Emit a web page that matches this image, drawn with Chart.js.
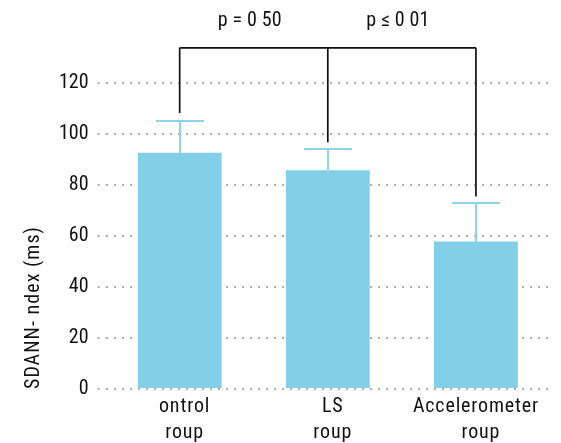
<!DOCTYPE html>
<html><head><meta charset="utf-8">
<script src="https://cdn.jsdelivr.net/npm/chart.js@4/dist/chart.umd.min.js"></script>
<style>html,body{margin:0;padding:0;background:#fff}#wrap{width:561px;height:443px}</style>
</head><body><div id="wrap"><canvas id="c"></canvas></div>
<script>
const categories = [["\u2002ontrol","\u2002roup"],["\u2002LS","\u2002roup"],["Accelerometer","\u2002roup"]];
const means = [92.6, 85.8, 57.8];
const errorTops = [105.0, 94.3, 73.1];
const yTicks = [0,20,40,60,80,100,120];
const bracketLevel = 133.8;
const bracketEndValues = [108.2, 96.8, 75.5];
const pLabels = ["p = 0 50", "p \u2264 0 01"];

function pickFont(list){
  const c = document.createElement('canvas').getContext('2d');
  const t = 'Accelerometer 0123456789 SDANN';
  for (const f of list){
    c.font = '20px monospace'; const w0 = c.measureText(t).width;
    c.font = "20px '" + f + "', monospace"; const w1 = c.measureText(t).width;
    if (Math.abs(w0 - w1) > 0.5) return f;
  }
  return 'Roboto';
}
const FACE = pickFont(['Liberation Sans Narrow','Roboto Condensed','DejaVu Sans Condensed','Open Sans Condensed','Roboto']);
const NARROW = FACE !== 'Roboto';
const FS = NARROW ? 20 : 19;
const FONT = "'" + FACE + "', sans-serif";
const mctx = document.createElement('canvas').getContext('2d');
mctx.font = FS + 'px ' + FONT;
const X_LS = Math.max(0, (126 - mctx.measureText('Accelerometer').width) / 13);
const T_LS = Math.max(0, (163 - mctx.measureText('SDANN- ndex (ms)').width) / 16);
const P_LS = Math.max(0, (64 - mctx.measureText('p = 0 50').width) / 8);

class SpacedCategory extends Chart.CategoryScale {
  static id = 'spacedCategory';
  drawLabels(area){ const ctx = this.ctx; ctx.save(); ctx.letterSpacing = X_LS.toFixed(2) + 'px'; super.drawLabels(area); ctx.restore(); }
}
class SpacedLinear extends Chart.LinearScale {
  static id = 'spacedLinear';
  drawTitle(){ const ctx = this.ctx; ctx.save(); ctx.letterSpacing = T_LS.toFixed(2) + 'px'; super.drawTitle(); ctx.restore(); }
}
Chart.register(SpacedCategory, SpacedLinear);

const BAR = '#83cfe8';

const overlay = {
  id:'overlay',
  afterDatasetsDraw(chart){
    const ctx = chart.ctx, x = chart.scales.x, y = chart.scales.y;
    ctx.save();
    ctx.strokeStyle = '#8dd3ec'; ctx.lineWidth = 2;
    means.forEach((m,i)=>{
      const cx = Math.round(x.getPixelForValue(i));
      const y0 = y.getPixelForValue(m), y1 = Math.round(y.getPixelForValue(errorTops[i]));
      ctx.beginPath(); ctx.moveTo(cx,y0); ctx.lineTo(cx,y1);
      ctx.moveTo(cx-24,y1); ctx.lineTo(cx+24,y1); ctx.stroke();
    });
    ctx.strokeStyle = '#111'; ctx.lineWidth = 1.7;
    const by = y.getPixelForValue(bracketLevel);
    ctx.beginPath();
    ctx.moveTo(x.getPixelForValue(0), by); ctx.lineTo(x.getPixelForValue(2), by);
    bracketEndValues.forEach((v,i)=>{
      const cx = x.getPixelForValue(i);
      ctx.moveTo(cx, by); ctx.lineTo(cx, y.getPixelForValue(v));
    });
    ctx.stroke();
    ctx.fillStyle = '#111'; ctx.font = FS + "px " + FONT;
    ctx.letterSpacing = P_LS.toFixed(2) + 'px';
    ctx.textAlign = 'center'; ctx.textBaseline = 'alphabetic';
    pLabels.forEach((t,i)=>{
      const cx = (x.getPixelForValue(i) + x.getPixelForValue(i+1))/2;
      ctx.fillText(t, cx - 4, by - 22);
    });
    ctx.restore();
  }
};

new Chart(document.getElementById('c'), {
  type:'bar',
  data:{ labels: categories, datasets:[{ data: means, backgroundColor: BAR, borderWidth:0, barPercentage:0.566, categoryPercentage:1 }]},
  options:{
    responsive:true, maintainAspectRatio:false, animation:false,
    layout:{ padding:{ top:83, right:11, left:22, bottom:-8 } },
    plugins:{ legend:{display:false}, tooltip:{enabled:false} },
    scales:{
      x:{ type:'spacedCategory', grid:{display:false, drawTicks:false}, border:{display:false},
          ticks:{ color:'#111', font:{family:FONT, size:FS, lineHeight:1.3}, padding:5, maxRotation:0 } },
      y:{ type:'spacedLinear', min:0, max:120,
          afterBuildTicks(s){ s.ticks = yTicks.map(v=>({value:v})); },
          border:{display:false, dash:[2,6]},
          grid:{ color:'#adadad', lineWidth:2, tickBorderDash:[2,6], tickLength:8, tickColor:'#adadad' },
          ticks:{ color:'#111', font:{family:FONT, size:FS}, padding:9 },
          title:{ display:true, text:'SDANN- ndex (ms)', align:'start', color:'#111', font:{family:FONT, size:FS}, padding:{top:0,bottom:4} } }
    }
  },
  plugins:[overlay]
});
</script></body></html>
